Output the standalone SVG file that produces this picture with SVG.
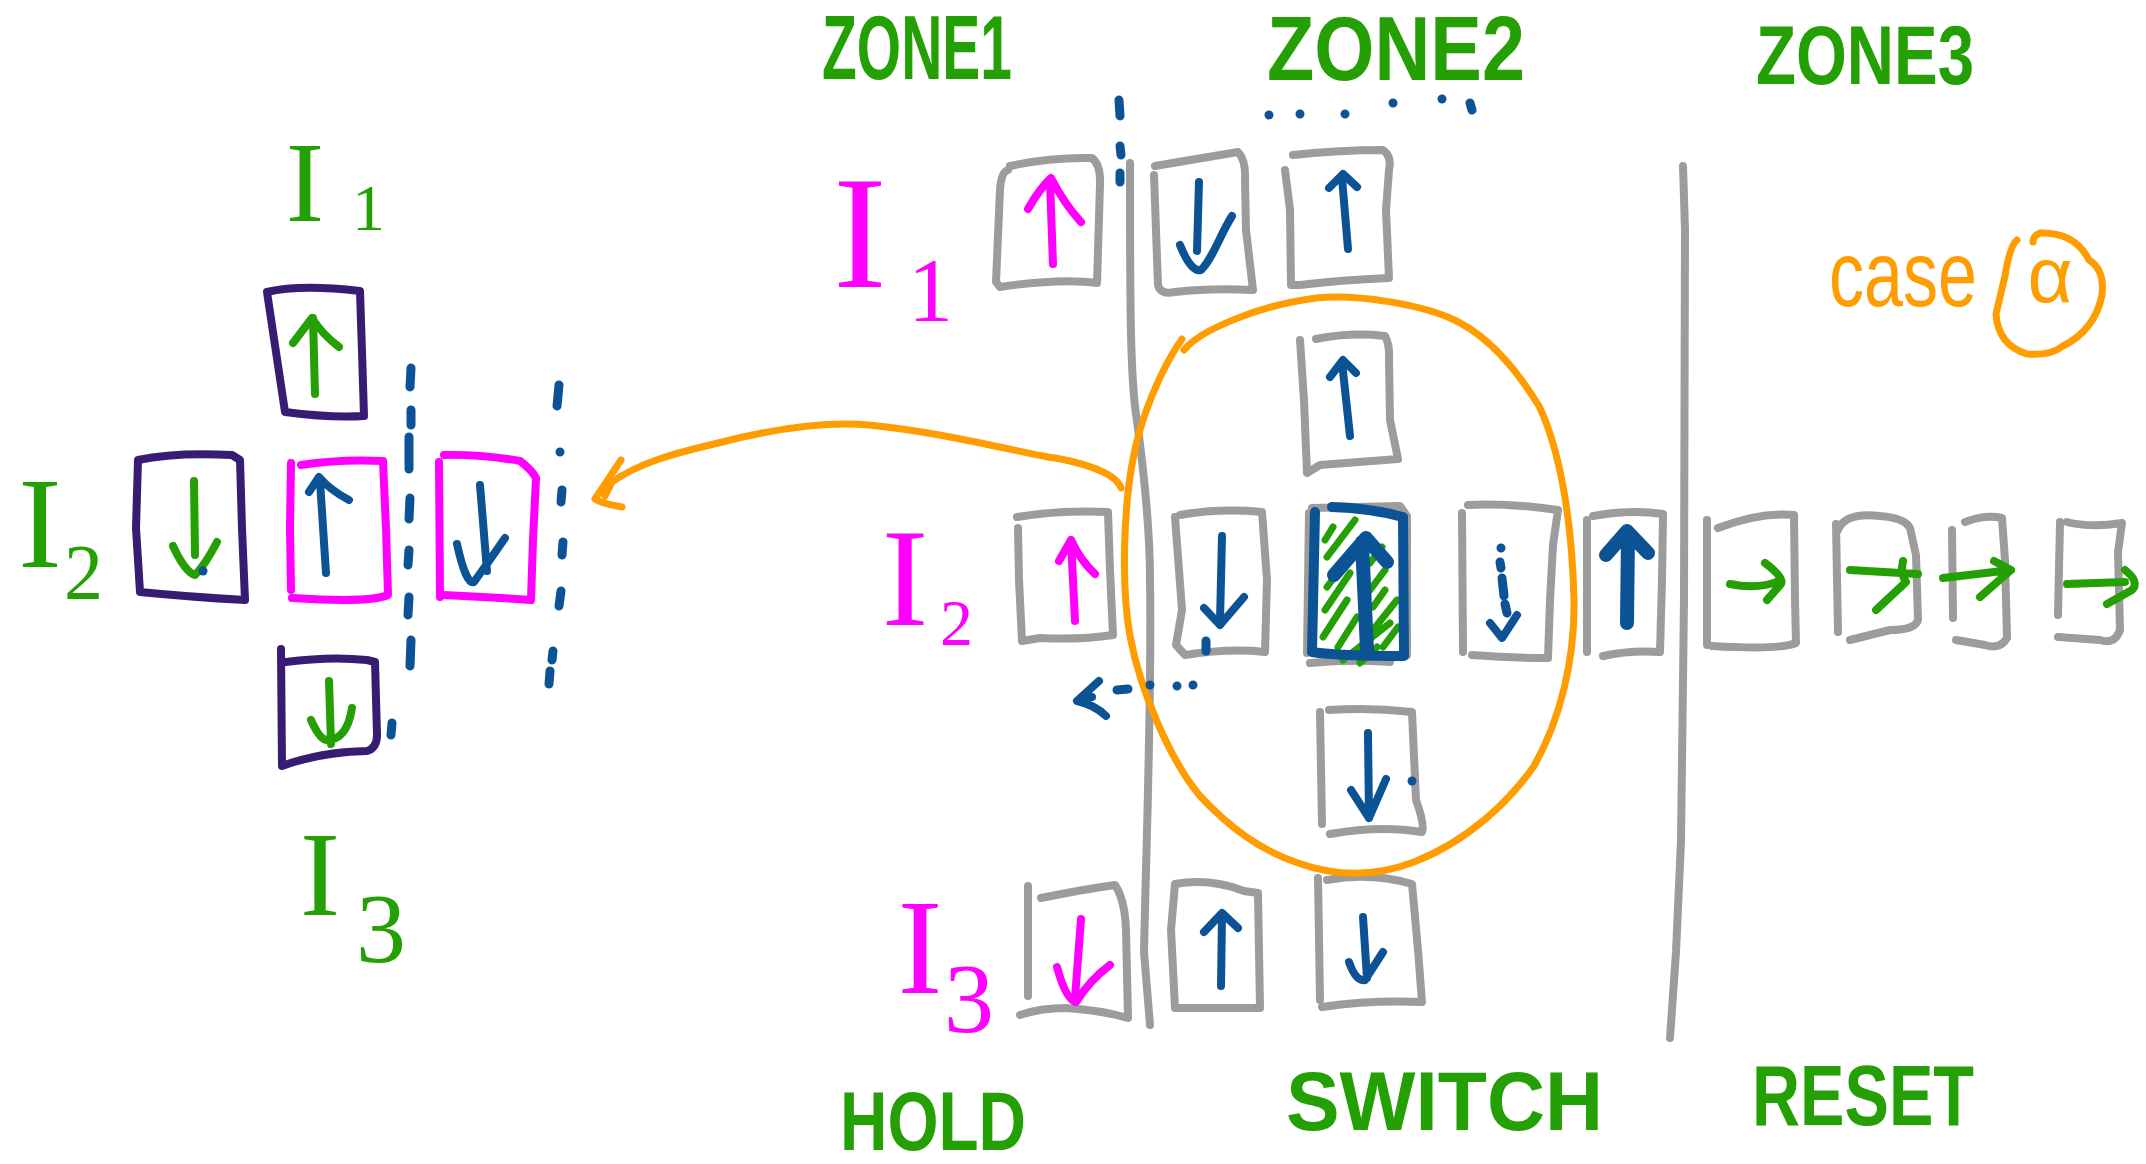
<svg xmlns="http://www.w3.org/2000/svg" width="2146" height="1164" viewBox="0 0 2146 1164">
<style>
path,line{fill:none;stroke-linecap:round;stroke-linejoin:round}
.gr{stroke:#9c9c9c;stroke-width:8}
.pu{stroke:#381c73;stroke-width:8}
.mg{stroke:#ff00ff;stroke-width:8}
.bl{stroke:#0c5396;stroke-width:8}
.blt{stroke:#0c5396;stroke-width:14}
.gn{stroke:#24a004;stroke-width:8}
.or{stroke:#ff9c00;stroke-width:7}
.dot{stroke:#0c5396;stroke-width:9}
.zl{font-family:"Liberation Sans",Arial,sans-serif;font-weight:bold;fill:#24a004}
.il{font-family:"Liberation Serif","Times New Roman",serif}
.ig{fill:#24a004}
.im{fill:#ff00ff}
.oc{font-family:"Liberation Sans",Arial,sans-serif;fill:#ff9c00}
</style>
<rect width="2146" height="1164" fill="#ffffff"/>

<!-- ===== Left detail ===== -->
<g id="label-left-I1"><text class="il ig"><tspan x="305" y="221" font-size="115" text-anchor="middle">I</tspan><tspan x="352" y="230" font-size="66">1</tspan></text></g>
<g id="label-left-I2"><text class="il ig"><tspan x="40" y="567" font-size="130" text-anchor="middle">I</tspan><tspan x="64" y="598" font-size="78">2</tspan></text></g>
<g id="label-left-I3"><text class="il ig"><tspan x="320" y="915" font-size="120" text-anchor="middle">I</tspan><tspan x="356" y="962" font-size="100">3</tspan></text></g>

<g id="left-I1-box">
<path class="pu" d="M267,292 Q300,284 360,291 L362,352 L364,416 Q330,418 285,412 L276,352 Z"/>
<path class="gn" d="M315,394 L313,318 M293,343 L312,318 Q322,334 339,347"/>
</g>
<g id="left-I2-box-a">
<path class="pu" d="M138,460 Q175,452 232,455 L240,460 L242,528 L245,600 Q190,597 140,592 L136,528 Z"/>
<path class="gn" d="M194,481 L195,555 M173,546 Q185,572 195,575 Q205,565 217,542"/>
<line class="dot" x1="203" y1="571" x2="203" y2="571"/>
</g>
<g id="left-I2-box-b">
<path class="mg" d="M301,465 Q340,459 383,461 L386,528 L388,595 Q370,603 292,598 M291,590 L290,528 L291,463"/>
<path class="bl" d="M326,573 L320,481 M309,492 L319,477 Q330,490 349,500"/>
</g>
<g id="left-I2-box-c">
<path class="mg" d="M444,455 Q480,454 520,461 Q532,470 536,478 L533,540 L531,600 Q490,597 444,595 M439,462 L440,597"/>
<path class="bl" d="M480,485 L487,571 M457,544 Q466,585 474,582 Q490,560 505,538"/>
</g>
<g id="left-I3-box">
<path class="pu" d="M281,649 L282,766 Q320,752 367,751 Q377,748 377,735 L375,662 L367,660 Q330,656 286,662"/>
<path class="gn" d="M329,681 L331,744 M311,720 Q320,740 327,740 Q347,740 352,708"/>
<line class="dot" x1="392" y1="723" x2="391" y2="735"/>
</g>
<g id="left-dash-lines">
<path class="dot" d="M411,368 L410,387 M411,410 L411,425 M409,437 L409,469 M410,498 L409,519 M409,550 L408,565 M409,597 L408,615 M411,640 L410,666"/>
<path class="dot" d="M559,385 L557,406 M560,452 L560,452 M562,490 L561,502 M563,542 L562,555 M561,591 L559,606 M553,651 L552,660 M550,671 L549,684"/>
</g>

<!-- ===== Zone headers ===== -->
<g id="zone1-label"><text class="zl" x="822" y="79" font-size="90" textLength="190" lengthAdjust="spacingAndGlyphs">ZONE1</text></g>
<g id="zone2-label"><text class="zl" x="1267" y="80" font-size="90" textLength="258" lengthAdjust="spacingAndGlyphs">ZONE2</text></g>
<g id="zone3-label"><text class="zl" x="1756" y="84" font-size="84" textLength="218" lengthAdjust="spacingAndGlyphs">ZONE3</text></g>
<g id="zone-dots">
<path class="dot" d="M1119,100 L1120,116 M1120,146 L1121,155 M1120,173 L1120,182"/>
<path class="dot" d="M1269,115 L1269,115 M1300,114 L1300,114 M1345,114 L1345,114 M1393,103 L1393,103 M1442,99 L1442,99 M1470,103 L1472,110"/>
</g>

<!-- ===== Zone separators ===== -->
<g id="separators">
<path class="gr" d="M1130,163 C1130,300 1130,380 1137,421 C1145,480 1150,530 1150,580 C1152,700 1146,850 1144,952 L1150,1025"/>
<path class="gr" d="M1683,166 L1685,230 L1684,600 L1681,841 L1676,952 L1670,1038"/>
</g>

<!-- ===== Row labels ===== -->
<g id="label-I1"><text class="il im"><tspan x="860" y="287" font-size="160" text-anchor="middle">I</tspan><tspan x="908" y="321" font-size="90">1</tspan></text></g>
<g id="label-I2"><text class="il im"><tspan x="905" y="625" font-size="140" text-anchor="middle">I</tspan><tspan x="940" y="645" font-size="66">2</tspan></text></g>
<g id="label-I3"><text class="il im"><tspan x="920" y="993" font-size="135" text-anchor="middle">I</tspan><tspan x="944" y="1032" font-size="100">3</tspan></text></g>

<!-- ===== Row I1 ===== -->
<g id="hold-I1">
<path class="gr" d="M1010,166 Q1050,157 1092,158 Q1101,165 1100,185 L1097,283 Q1060,278 1000,287 L996,282 L1000,190 Q1001,172 1008,170"/>
<path class="mg" d="M1053,264 L1050,182 M1028,209 Q1040,188 1051,178 Q1065,205 1081,222"/>
</g>
<g id="switch-I1-a">
<path class="gr" d="M1155,166 Q1190,160 1238,152 Q1246,160 1245,180 L1246,230 L1253,290 Q1210,288 1175,292 Q1160,295 1158,285 L1154,175"/>
<path class="bl" d="M1199,182 L1197,251 M1180,245 C1188,265 1195,272 1201,270 C1212,260 1220,235 1232,216"/>
</g>
<g id="switch-I1-b">
<path class="gr" d="M1293,155 Q1340,150 1383,150 Q1392,156 1389,170 L1386,210 L1389,278 Q1340,280 1300,285 L1291,285 L1290,210 L1285,170"/>
<path class="bl" d="M1348,249 L1342,178 M1329,188 L1343,174 L1357,187"/>
</g>

<!-- ===== Circled region ===== -->
<g id="switch-top">
<path class="gr" d="M1316,339 Q1350,332 1385,336 Q1390,345 1389,360 L1390,420 L1398,459 Q1360,462 1320,465 L1307,473 L1304,400 L1300,340"/>
<path class="bl" d="M1350,436 L1342,362 M1330,377 L1343,360 L1356,373"/>
</g>
<g id="switch-bottom">
<path class="gr" d="M1329,710 Q1370,707 1412,712 L1416,800 Q1425,825 1422,832 Q1380,825 1330,834 M1320,712 L1322,824"/>
<path class="bl" d="M1368,733 L1369,818 M1351,790 L1369,818 L1386,779"/>
<line class="dot" x1="1412" y1="781" x2="1412" y2="781"/>
</g>

<!-- ===== Row I2 ===== -->
<g id="hold-I2">
<path class="gr" d="M1017,517 Q1060,510 1108,512 L1110,570 L1113,635 Q1080,640 1040,638 L1022,641 L1019,580 L1018,528"/>
<path class="mg" d="M1075,621 L1071,540 M1059,561 L1071,540 Q1080,560 1095,574"/>
</g>
<g id="switch-I2-a">
<path class="gr" d="M1180,515 Q1220,508 1262,512 L1267,580 L1265,652 Q1230,648 1185,655 L1176,645 L1182,610 L1175,517"/>
<path class="bl" d="M1222,536 L1220,621 M1204,608 L1220,625 L1244,597"/>
<line class="dot" x1="1206" y1="641" x2="1206" y2="651"/>
</g>
<g id="switch-I2-current">
<path class="gr" d="M1309,513 L1307,653 M1310,663 Q1350,659 1390,662 M1312,508 L1400,506 L1407,516 L1407,655"/>
<path stroke="#24a004" stroke-width="7" d="M1325,540 L1333,527 M1327,557 L1355,520 M1327,587 L1357,547 M1325,610 L1350,573 M1323,637 L1347,600 M1338,647 L1357,617 M1370,563 L1382,547 M1370,590 L1385,570 M1373,607 L1385,590 M1373,630 L1397,600 M1383,647 L1398,627 M1343,660 L1390,623 M1360,663 L1377,647"/>
<path stroke="#0c5396" stroke-width="10" d="M1315,512 L1312,652 Q1340,656 1404,656 L1403,517 Q1370,508 1332,507"/>
<path class="blt" d="M1367,650 L1362,542 M1334,575 L1366,538 L1387,562"/>
</g>
<g id="switch-I2-b">
<path class="gr" d="M1468,505 Q1510,503 1558,510 L1553,545 L1550,600 L1548,658 Q1510,658 1472,655 M1462,513 L1463,652"/>
<path class="dot" d="M1501,548 L1501,548 M1500,562 L1501,568 M1502,578 L1504,596 M1505,604 L1507,613"/>
<path class="bl" d="M1490,623 L1502,638 L1517,615"/>
</g>
<g id="switch-I2-c">
<path class="gr" d="M1593,516 Q1630,509 1663,514 L1662,580 L1660,652 Q1630,650 1603,656 M1587,520 L1587,652"/>
<path class="blt" d="M1627,623 L1628,534 M1606,555 L1627,531 L1648,553"/>
</g>
<g id="reset-1">
<path class="gr" d="M1718,528 Q1760,512 1794,515 L1795,600 L1796,643 Q1780,650 1712,646 M1707,520 L1707,645"/>
<path class="gn" d="M1730,584 Q1760,590 1781,580 M1765,563 Q1785,578 1781,584 L1767,600"/>
</g>
<g id="reset-2">
<path class="gr" d="M1838,530 Q1845,512 1880,516 Q1905,518 1910,528 L1916,555 L1918,620 Q1915,630 1890,630 L1850,640 M1836,524 L1838,632"/>
<path class="gn" d="M1850,570 L1918,574 M1903,561 Q1900,574 1906,582 L1876,610"/>
</g>
<g id="reset-3">
<path class="gr" d="M1965,522 Q1985,514 2002,518 L2005,560 L2007,638 Q2000,650 1985,645 L1956,640 M1952,530 L1953,618"/>
<path class="gn" d="M1943,578 L2011,570 M1994,561 L2011,570 L1980,597"/>
</g>
<g id="reset-4">
<path class="gr" d="M2067,522 Q2090,528 2122,523 L2118,552 L2120,630 Q2115,645 2100,640 L2058,637 M2060,522 L2058,615"/>
<path class="gn" d="M2067,584 L2125,582 M2125,570 Q2140,582 2132,590 L2107,604"/>
</g>

<!-- ===== Row I3 ===== -->
<g id="hold-I3">
<path class="gr" d="M1041,898 Q1080,890 1115,885 Q1125,900 1126,930 L1128,1018 Q1100,1010 1066,1008 Q1040,1008 1020,1015 M1028,886 L1028,996"/>
<path class="mg" d="M1081,919 L1075,998 M1057,967 Q1066,1000 1076,1002 Q1090,980 1110,965"/>
</g>
<g id="switch-I3-a">
<path class="gr" d="M1175,884 Q1210,878 1244,891 L1258,893 L1260,1008 L1175,1008 L1171,930 Z"/>
<path class="bl" d="M1221,986 L1222,915 M1204,932 L1222,913 L1238,928"/>
</g>
<g id="switch-I3-b">
<path class="gr" d="M1327,880 Q1370,872 1412,884 L1418,950 L1422,1002 Q1370,1000 1322,1007 M1318,878 L1320,1000"/>
<path class="bl" d="M1363,917 L1367,978 M1349,962 Q1356,982 1365,980 L1383,952"/>
</g>

<!-- ===== Case alpha ===== -->
<g id="case-alpha">
<text class="oc" x="1829" y="306" font-size="92" textLength="148" lengthAdjust="spacingAndGlyphs">case</text>
<text class="oc" x="2050" y="302" font-size="78" text-anchor="middle">α</text>
<path class="or" d="M2017,240 Q2010,245 2005,276 L1996,314 Q1998,345 2027,354 Q2050,356 2063,346 Q2095,330 2102,295 Q2105,270 2089,260 Q2075,232 2040,233 Q2033,236 2033,242"/>
</g>

<!-- ===== Connectors ===== -->
<g id="connectors">
<path class="or" d="M1184,350 C1200,330 1260,305 1316,298 C1360,294 1420,305 1450,318 C1490,335 1520,375 1539,406 C1560,450 1572,520 1574,600 C1575,660 1560,720 1534,766 C1510,800 1470,840 1414,862 C1380,875 1340,878 1298,863 C1260,850 1230,828 1200,796 C1170,760 1140,690 1130,636 C1120,580 1125,500 1133,459 C1140,420 1160,370 1182,339"/>
<path class="or" d="M1121,488 C1115,470 1070,460 1048,457 C1010,450 940,432 869,425 C820,421 760,432 714,444 C680,452 640,462 612,482 L605,496"/>
<path class="or" d="M621,460 L595,499 Q600,503 622,507"/>
<path class="dot" d="M1193,685 L1193,685 M1177,686 L1177,686 M1150,685 L1150,685 M1117,690 L1128,689"/>
<path class="bl" d="M1099,681 L1077,701 Q1095,705 1106,716 M1088,697 L1092,697"/>
</g>

<!-- ===== Bottom labels ===== -->
<g id="hold-label"><text class="zl" x="840" y="1150" font-size="84" textLength="186" lengthAdjust="spacingAndGlyphs">HOLD</text></g>
<g id="switch-label"><text class="zl" x="1286" y="1130" font-size="84" textLength="317" lengthAdjust="spacingAndGlyphs">SWITCH</text></g>
<g id="reset-label"><text class="zl" x="1752" y="1125" font-size="86" textLength="222" lengthAdjust="spacingAndGlyphs">RESET</text></g>
</svg>
